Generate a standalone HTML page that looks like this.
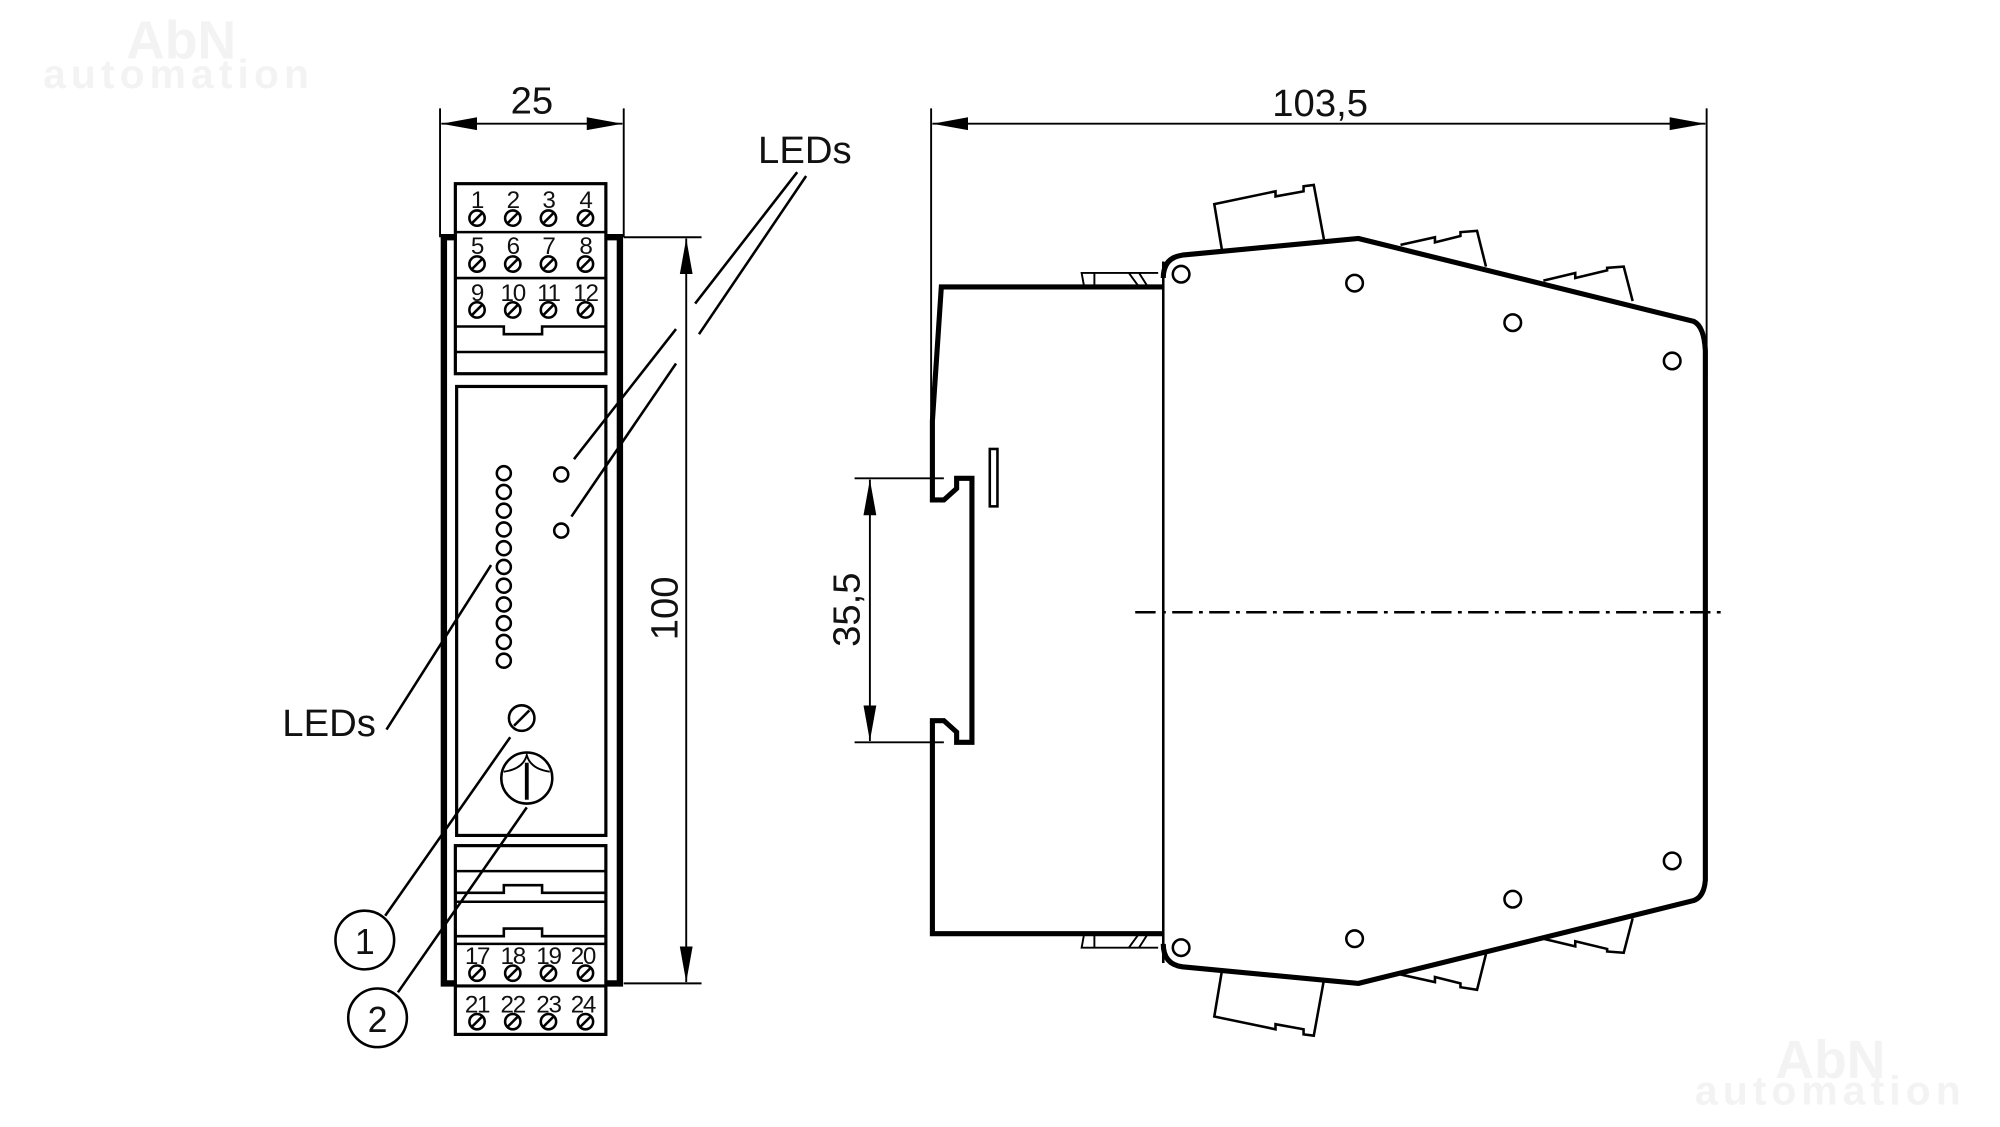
<!DOCTYPE html>
<html><head><meta charset="utf-8"><style>
html,body{margin:0;padding:0;background:#fff;}
svg{display:block;}
text{font-family:"Liberation Sans",Arial,sans-serif;fill:#111;}
</style></head><body>
<svg width="2000" height="1127" viewBox="0 0 1568 883.6" preserveAspectRatio="none" xmlns="http://www.w3.org/2000/svg">
<defs>
<marker id="arl" viewBox="0 0 10 10" refX="10" refY="5" markerWidth="28" markerHeight="28" markerUnits="userSpaceOnUse" orient="auto-start-reverse"><path d="M0,3.2 L10,5 L0,6.8 z" fill="#000"/></marker>
<g id="sc"><circle r="6" fill="#fff" stroke="#000" stroke-width="2"/><line x1="-4" y1="4" x2="4" y2="-4" stroke="#000" stroke-width="2"/></g>
</defs>
<text x="142" y="46" font-size="42" font-weight="bold" text-anchor="middle" style="fill:#f3f3f3">AbN</text>
<text x="140" y="69" font-size="32" font-weight="bold" text-anchor="middle" letter-spacing="4" style="fill:#f3f3f3">automation</text>
<text x="1435" y="845" font-size="42" font-weight="bold" text-anchor="middle" style="fill:#f3f3f3">AbN</text>
<text x="1435" y="866" font-size="32" font-weight="bold" text-anchor="middle" letter-spacing="4" style="fill:#f3f3f3">automation</text>

<g fill="none" stroke="#000">
<line x1="345" y1="85" x2="345" y2="186" stroke-width="1.5"/>
<line x1="489" y1="85" x2="489" y2="186" stroke-width="1.5"/>
<line x1="346" y1="97" x2="488" y2="97" stroke-width="1.5" marker-start="url(#arl)" marker-end="url(#arl)"/>
<path d="M358,186 H348 V771 H358 M475,186 H486 V771 H475" stroke-width="5"/>
<rect x="357" y="144" width="118" height="149" stroke-width="2.5"/>
<line x1="357" y1="182" x2="475" y2="182" stroke-width="2"/>
<line x1="357" y1="218" x2="475" y2="218" stroke-width="2"/>
<path d="M357,256 H395 V262 H425 V256 H475" stroke-width="2"/>
<line x1="357" y1="276" x2="475" y2="276" stroke-width="2"/>
<rect x="358" y="303" width="117" height="352" stroke-width="2.5"/>
<rect x="357" y="663" width="118" height="148" stroke-width="2.5"/>
<line x1="357" y1="683" x2="475" y2="683" stroke-width="2"/>
<path d="M357,700 H395 V694 H425 V700 H475" stroke-width="2"/>
<line x1="357" y1="707" x2="475" y2="707" stroke-width="2"/>
<path d="M357,734 H395 V728 H425 V734 H475" stroke-width="2"/>
<line x1="357" y1="740" x2="475" y2="740" stroke-width="2"/>
<line x1="357" y1="773" x2="475" y2="773" stroke-width="2.5"/>
<line x1="489" y1="186" x2="550" y2="186" stroke-width="1.5"/>
<line x1="489" y1="771" x2="550" y2="771" stroke-width="1.5"/>
<line x1="538" y1="187" x2="538" y2="770" stroke-width="1.5" marker-start="url(#arl)" marker-end="url(#arl)"/>
<g stroke-width="2">
<circle cx="395" cy="371" r="5.5"/><circle cx="395" cy="385.7" r="5.5"/><circle cx="395" cy="400.4" r="5.5"/><circle cx="395" cy="415.1" r="5.5"/><circle cx="395" cy="429.8" r="5.5"/><circle cx="395" cy="444.5" r="5.5"/><circle cx="395" cy="459.2" r="5.5"/><circle cx="395" cy="473.9" r="5.5"/><circle cx="395" cy="488.6" r="5.5"/><circle cx="395" cy="503.3" r="5.5"/><circle cx="395" cy="518" r="5.5"/>
<circle cx="440" cy="372" r="5.5"/><circle cx="440" cy="416" r="5.5"/>
</g>
<circle cx="409" cy="563" r="10" stroke-width="2"/><line x1="403" y1="569" x2="415" y2="557" stroke-width="2"/>
<circle cx="413" cy="610" r="20" stroke-width="2"/>
<line x1="413" y1="598" x2="413" y2="627" stroke-width="3"/>
<path d="M395,605 Q410,603 413,592 Q416,603 431,605" stroke-width="1.5"/>
<g stroke-width="2">
<line x1="625" y1="135" x2="545" y2="238"/>
<line x1="632" y1="138" x2="548" y2="262"/>
<line x1="530" y1="258" x2="450" y2="360"/>
<line x1="530" y1="285" x2="448" y2="405"/>
<line x1="303" y1="572" x2="385" y2="443"/>
<line x1="302" y1="718" x2="400" y2="578"/>
<line x1="312" y1="778" x2="413" y2="633"/>
</g>
<circle cx="286" cy="737" r="23" stroke-width="2"/>
<circle cx="296" cy="798" r="23" stroke-width="2"/>

<line x1="730" y1="85" x2="730" y2="330" stroke-width="1.5"/>
<line x1="1338" y1="85" x2="1338" y2="295" stroke-width="1.5"/>
<line x1="731" y1="97" x2="1337" y2="97" stroke-width="1.5" marker-start="url(#arl)" marker-end="url(#arl)"/>
<line x1="670" y1="375" x2="740" y2="375" stroke-width="1.5"/>
<line x1="670" y1="582" x2="740" y2="582" stroke-width="1.5"/>
<line x1="682" y1="376" x2="682" y2="581" stroke-width="1.5" marker-start="url(#arl)" marker-end="url(#arl)"/>
<path d="M912,225 H738 L731,330 V392 H740 L750,383 V375 H762 V582 H750 V574 L740,565 H731 V628 L731,732 H912" stroke-width="4"/>
<rect x="776" y="352" width="6" height="45" stroke-width="2"/>
<path d="M850,225 L848,214 H908 M858,225 V214 M885,214 L893,225 M893,214 L900,225" stroke-width="1.5"/>
<path d="M850,732 L848,743 H908 M858,732 V743 M885,743 L893,732 M893,743 L900,732" stroke-width="1.5"/>
<line x1="912" y1="205" x2="912" y2="755" stroke-width="2"/>
<path d="M912,218 Q912,202 927,200 L1065,187 L1328,252 Q1336,256 1337,275 L1337,690 Q1336,703 1328,706 L1065,771 L927,758 Q912,756 912,740" stroke-width="4"/>
<g stroke-width="2">
<circle cx="926" cy="215" r="6.5"/><circle cx="1062" cy="222" r="6.5"/><circle cx="1186" cy="253" r="6.5"/><circle cx="1311" cy="283" r="6.5"/>
<circle cx="1311" cy="675" r="6.5"/><circle cx="1186" cy="705" r="6.5"/><circle cx="1062" cy="736" r="6.5"/><circle cx="926" cy="743" r="6.5"/>
</g>
<g stroke-width="2">
<path d="M958,196 L952,160 L1000,150 V154 L1022,150 V146 L1030,145 L1038,188"/>
<path d="M1098,192 L1125,186 V190 L1145,185 V182 L1158,181 L1165,209"/>
<path d="M1210,220 L1235,214 V218 L1260,212 V210 L1273,209 L1280,236"/>
<path d="M958,761 L952,797 L1000,807 V803 L1022,807 V811 L1030,812 L1038,768"/>
<path d="M1098,764 L1125,770 V766 L1145,771 V774 L1158,776 L1165,748"/>
<path d="M1210,736 L1235,742 V738 L1260,744 V746 L1273,747 L1280,720"/>
</g>
<line x1="890" y1="480" x2="1352" y2="480" stroke-width="2" stroke-dasharray="16,5,3,5"/>
</g>

<text x="417" y="89" font-size="30" text-anchor="middle">25</text>
<text x="1035" y="91" font-size="30" text-anchor="middle">103,5</text>
<text x="631" y="128" font-size="30" text-anchor="middle">LEDs</text>
<text x="258" y="577" font-size="30" text-anchor="middle">LEDs</text>
<text x="286" y="748" font-size="28" text-anchor="middle">1</text>
<text x="296" y="809" font-size="28" text-anchor="middle">2</text>
<text transform="translate(531,477) rotate(-90)" font-size="30" text-anchor="middle">100</text>
<text transform="translate(674,478) rotate(-90)" font-size="30" text-anchor="middle">35,5</text>

<g font-size="19" text-anchor="middle" letter-spacing="-1">
<text x="374" y="163">1</text><text x="402" y="163">2</text><text x="430" y="163">3</text><text x="459" y="163">4</text>
<text x="374" y="199">5</text><text x="402" y="199">6</text><text x="430" y="199">7</text><text x="459" y="199">8</text>
<text x="374" y="236">9</text><text x="402" y="236">10</text><text x="430" y="236">11</text><text x="459" y="236">12</text>
<text x="374" y="756">17</text><text x="402" y="756">18</text><text x="430" y="756">19</text><text x="457" y="756">20</text>
<text x="374" y="794">21</text><text x="402" y="794">22</text><text x="430" y="794">23</text><text x="457" y="794">24</text>
</g>
<g>
<use href="#sc" x="374" y="171"/><use href="#sc" x="402" y="171"/><use href="#sc" x="430" y="171"/><use href="#sc" x="459" y="171"/>
<use href="#sc" x="374" y="207"/><use href="#sc" x="402" y="207"/><use href="#sc" x="430" y="207"/><use href="#sc" x="459" y="207"/>
<use href="#sc" x="374" y="243"/><use href="#sc" x="402" y="243"/><use href="#sc" x="430" y="243"/><use href="#sc" x="459" y="243"/>
<use href="#sc" x="374" y="763"/><use href="#sc" x="402" y="763"/><use href="#sc" x="430" y="763"/><use href="#sc" x="459" y="763"/>
<use href="#sc" x="374" y="801"/><use href="#sc" x="402" y="801"/><use href="#sc" x="430" y="801"/><use href="#sc" x="459" y="801"/>
</g>
</svg>
</body></html>
